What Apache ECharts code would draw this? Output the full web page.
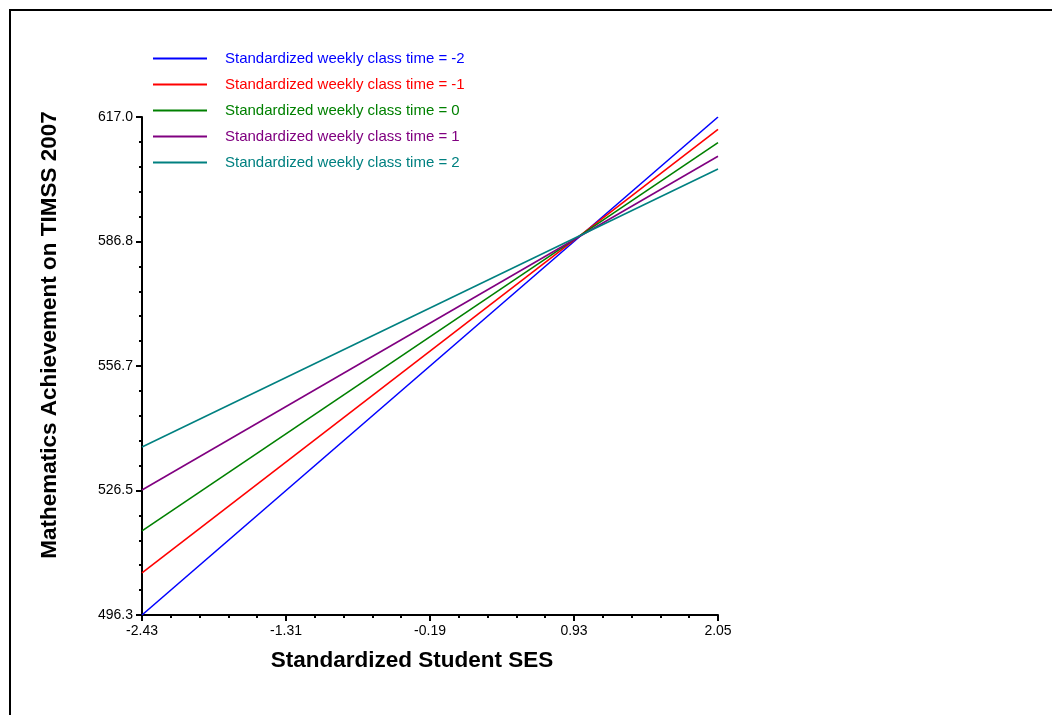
<!DOCTYPE html>
<html>
<head>
<meta charset="utf-8">
<script src="https://cdn.jsdelivr.net/npm/echarts@6/dist/echarts.min.js"></script>
<style>
html,body{margin:0;padding:0;background:#fff;}
#chart{width:1052px;height:715px;}
</style>
</head>
<body>
<div id="chart"></div>
<script>
// ---- data ----
const xValues = [-2.43, 2.05];
const seriesNames = [
  'Standardized weekly class time = -2',
  'Standardized weekly class time = -1',
  'Standardized weekly class time = 0',
  'Standardized weekly class time = 1',
  'Standardized weekly class time = 2'
];
const seriesColors = ['#0000ff', '#ff0000', '#008000', '#800080', '#008080'];
const timeM2 = [496.3, 617.0];
const timeM1 = [506.5, 614.0];
const time0  = [516.7, 610.8];
const timeP1 = [526.6, 607.5];
const timeP2 = [537.0, 604.4];
const seriesValues = [timeM2, timeM1, time0, timeP1, timeP2];

const xTickValues = [-2.43, -1.31, -0.19, 0.93, 2.05];
const xTickLabels = ['-2.43', '-1.31', '-0.19', '0.93', '2.05'];
const yTickValues = [496.3, 526.475, 556.65, 586.825, 617.0];
const yTickLabels = ['496.3', '526.5', '556.7', '586.8', '617.0'];
const minorSubdivisions = 5;

function minorTicks(majors) {
  const out = [];
  for (let i = 0; i < majors.length - 1; i++) {
    const step = (majors[i + 1] - majors[i]) / minorSubdivisions;
    for (let k = 1; k < minorSubdivisions; k++) out.push(majors[i] + k * step);
  }
  return out;
}
function labelFor(values, labels) {
  return function (v) {
    for (let i = 0; i < values.length; i++) {
      if (Math.abs(values[i] - v) < 1e-6) return labels[i];
    }
    return '';
  };
}

const FONT = '"Liberation Sans", Arial, sans-serif';
const chart = echarts.init(document.getElementById('chart'));

const axisLineStyle = { show: true, onZero: false, lineStyle: { color: '#000', width: 2 } };

chart.setOption({
  backgroundColor: '#fff',
  animation: false,
  grid: { left: 142, right: 334, top: 117, bottom: 100, containLabel: false, outerBoundsMode: 'none' },
  legend: {
    orient: 'vertical',
    left: 153,
    top: 51,
    padding: 0,
    itemWidth: 54,
    itemHeight: 2,
    itemGap: 11,
    icon: 'rect',
    textStyle: { fontFamily: FONT, fontSize: 15, lineHeight: 15, padding: [0, 0, 0, 13] },
    data: seriesNames.map((n, i) => ({ name: n, textStyle: { color: seriesColors[i] } }))
  },
  xAxis: [
    {
      type: 'value',
      min: xValues[0],
      max: xValues[xValues.length - 1],
      axisLine: axisLineStyle,
      axisTick: { show: true, length: 6, customValues: xTickValues, lineStyle: { color: '#000', width: 2 } },
      axisLabel: {
        show: true, customValues: xTickValues, margin: 9,
        formatter: labelFor(xTickValues, xTickLabels),
        color: '#000', fontFamily: FONT, fontSize: 14,
        showMinLabel: true, showMaxLabel: true
      },
      splitLine: { show: false }
    },
    {
      type: 'value',
      position: 'bottom',
      min: xValues[0],
      max: xValues[xValues.length - 1],
      axisLine: { show: false, onZero: false },
      axisTick: { show: true, length: 3, customValues: minorTicks(xTickValues), lineStyle: { color: '#000', width: 2 } },
      axisLabel: { show: false },
      splitLine: { show: false }
    }
  ],
  yAxis: [
    {
      type: 'value',
      min: yTickValues[0],
      max: yTickValues[yTickValues.length - 1],
      axisLine: axisLineStyle,
      axisTick: { show: true, length: 6, customValues: yTickValues, lineStyle: { color: '#000', width: 2 } },
      axisLabel: {
        show: true, customValues: yTickValues, margin: 9,
        formatter: labelFor(yTickValues, yTickLabels),
        color: '#000', fontFamily: FONT, fontSize: 14,
        showMinLabel: true, showMaxLabel: true
      },
      splitLine: { show: false }
    },
    {
      type: 'value',
      position: 'left',
      min: yTickValues[0],
      max: yTickValues[yTickValues.length - 1],
      axisLine: { show: false, onZero: false },
      axisTick: { show: true, length: 3, customValues: minorTicks(yTickValues), lineStyle: { color: '#000', width: 2 } },
      axisLabel: { show: false },
      splitLine: { show: false }
    }
  ],
  series: seriesNames.map((n, i) => ({
    name: n,
    type: 'line',
    xAxisIndex: 0,
    yAxisIndex: 0,
    symbol: 'none',
    showSymbol: false,
    silent: true,
    lineStyle: { color: seriesColors[i], width: 1.6 },
    itemStyle: { color: seriesColors[i] },
    data: xValues.map((x, j) => [x, seriesValues[i][j]])
  })),
  graphic: [
    {
      type: 'rect',
      shape: { x: 10, y: 10, width: 1200, height: 900 },
      style: { fill: 'none', stroke: '#000', lineWidth: 2 },
      silent: true
    },
    {
      type: 'text',
      x: 412, y: 661,
      style: {
        text: 'Standardized Student SES',
        font: 'bold 22.5px ' + FONT,
        fill: '#000', align: 'center', verticalAlign: 'middle'
      }
    },
    {
      type: 'text',
      x: 50, y: 335,
      rotation: Math.PI / 2,
      style: {
        text: 'Mathematics Achievement on TIMSS 2007',
        font: 'bold 22.5px ' + FONT,
        fill: '#000', align: 'center', verticalAlign: 'middle'
      }
    }
  ]
});
</script>
</body>
</html>
